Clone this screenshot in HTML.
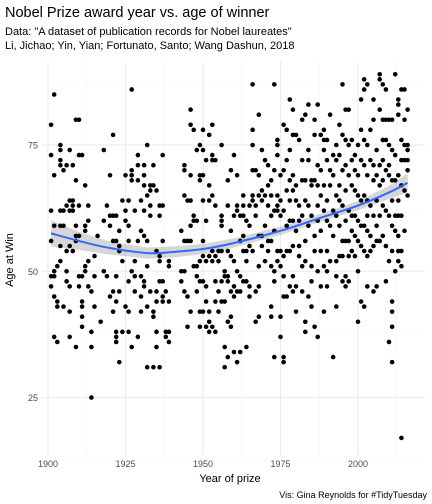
<!DOCTYPE html>
<html><head><meta charset="utf-8"><style>
html,body{margin:0;padding:0;background:#fff;}
svg{display:block;font-family:"Liberation Sans",sans-serif;}
</style></head><body>
<svg id="chart" width="432" height="504">
<text x="5" y="17" font-size="14.5" fill="#000">Nobel Prize award year vs. age of winner</text>
<text x="5" y="35" font-size="11" fill="#000">Data: "A dataset of publication records for Nobel laureates"</text>
<text x="5" y="49" font-size="11" fill="#000">Li, Jichao; Yin, Yian; Fortunato, Santo; Wang Dashun, 2018</text>
<g id="grid"></g>
<g id="band"></g>
<g id="pts"></g>
<g id="line"></g>
<g id="axes"></g>
<text x="230" y="482" font-size="11" text-anchor="middle" fill="#000">Year of prize</text>
<text transform="translate(13,260) rotate(-90)" font-size="11" text-anchor="middle" fill="#000">Age at Win</text>
<text x="427" y="498" font-size="9" text-anchor="end" fill="#000">Vis: Gina Reynolds for #TidyTuesday</text>
</svg>
<script>
const xTicks=[1900,1925,1950,1975,2000];
const yTicks=[25,50,75];
const smoothYears=[1901,1910,1920,1932,1940,1950,1960,1975,1990,2000,2010,2016];
const smoothAges=[57.5,56,54.6,53.6,53.8,54.4,55.6,58,61,63,65.6,67.5];
const smoothSE=[2.6,1.8,1.3,1.1,1.1,1,0.9,0.8,0.8,0.9,1.3,1.9];
const pointYears=[1901,1902,1903,1904,1905,1906,1907,1908,1909,1910,1911,1912,1913,1914,1915,1916,1917,1918,1919,1920,1921,1922,1923,1924,1925,1926,1927,1928,1929,1930,1931,1932,1933,1934,1935,1936,1937,1938,1939,1943,1944,1945,1946,1947,1948,1949,
1950,1951,1952,1953,1954,1955,1956,1957,1958,1959,1960,1961,1962,1963,1964,1965,1966,1967,1968,1969,1970,1971,1972,1973,1974,1975,1976,1977,1978,1979,1980,1981,1982,1983,1984,1985,1986,1987,1988,1989,1990,1991,1992,1993,1994,1995,1996,1997,1998,1999,2000,2001,2002,2003,2004,2005,2006,2007,2008,2009,2010,2011,2012,2013,2014,2015,2016];
const pointAges=[
[79,73,62,56,49,47],[85,69,59,50,49,45,37],[51,44,43,36],[75,74,72,71,62,59,55,52],[70,62,59,43],[71,63,54,50,48],[74,64,62,55,47,42,37],[71,64,63,62,54],[80,68,59,57,56,35],[80,73,57,63,49,47],[73,49,44,43,41,39],[67,59,58,51,50],[63,60,52,47],[46,38,35,25],[53,49,43],[57],[40],[60,50,74],[63,49],[69,61,59,45],[77,61,56,46,42],[61,56,49,44,38,37,36],[58,55,54,46,32],[64,52,38],[69,60,62,43],[64,59,56,48,42,38],[86,70,69,68,50,35],[62,52,49,46],[73,71,68,56,37],[64,58,49,45,42],[71,67,69,62,57,48,47],[75,65,56,51,43,31],[67,66,63,61,46],[67,71,42,41,31],[66,54,46,44,38,35],[63,61,53,52,48,31],[73,63,56,48,45,44],[46,38,37],[52,51,44,38,36],[58,50,48],[71,70,65,56,50,46],[64,56,45,39],[82,79,69,64,59,56,42],[78,61,60,51],[74,60,51,49,46],[75,69,68,52,48,42,39],
[78,74,69,64,56,53,48,42],[72,60,52,47,44,39],[77,67,64,53,42,40,38],[79,73,72,65,54,52,39],[72,63,53,48,44,38],[54,52,46,42],[75,61,60,59,54,48,44],[50,49,44,35,31],[68,63,54,49,48,40,33],[70,58,53,46,41,39],[73,61,52,47,45,34],[69,63,62,50,46,32],[61,56,49,46,34],[65,63,61,57,54,48],[60,54,52,48,35],[63,59,55,47,45],[87,78,75,70,65,64,54],[70,63,61,46,40],[81,69,65,57,51,47,41],[74,66,64,57,55],[72,65,59,52],[71,67,63,56,54],[68,65,61,56,51,43,41],[87,70,62,58,50,48,33],[76,75,73,65,63,62,54,52],[69,64,61,54,51,41,37],[79,70,62,53,49,45,33,32],[78,72,66,59,54,45],[84,74,68,64,60,54,47],[82,77,69,66,60,55,49,46],[77,67,64,58,47,42],[76,63,60,55,53],[80,72,68,61,51,46],[81,68,64,56,52,40,38],[83,74,72,63,59,45],[68,67,61,51,48,43],[80,77,68,57,54,39],[83,71,67,63,60,50,37],[77,70,65,58,54,47],[78,76,74,67,62,51,42],[76,72,64,60,54,50,47],[81,70,67,59,52],[73,69,62,57,33],[75,72,65,61,52,49,43],[79,73,67,64,59,53],[87,77,70,63,56,53,48],[82,76,71,66,60,56,49,47],[82,75,69,62,56,53,48],[76,72,67,61,58,54],[73,70,66,61,57,53],[75,69,65,60,56,50,40],[84,78,72,64,59,55,44],[88,86,76,71,65,59,54,43],[87,75,69,64,61,58,53,47],[78,72,63,57,54],[84,80,71,68,61,55,46],[74,69,64,59,56,47],[89,88,82,71,67,61,56],[87,80,76,72,68,63,57],[86,80,76,70,62,55,48],[80,75,71,69,61,52,36],[80,74,68,64,59,54,44,42,39,32],[89,73,68,61,58,50],[84,83,81,69,64,61,57,54,52],[86,76,72,67,61,54,51,17],[86,80,75,72,66,58],[82,75,74,72,70,65]];
const NS="http://www.w3.org/2000/svg";
const L=42,R=425,T=62,B=455;
const x=y=>48+(y-1900)*3.1;
const y=a=>145+(75-a)*5.05;
function mk(tag,attrs,parent){const e=document.createElementNS(NS,tag);for(const k in attrs)e.setAttribute(k,attrs[k]);parent.appendChild(e);return e;}
const grid=document.getElementById('grid');
for(let i=0;i<xTicks.length;i++){
  const v=xTicks[i];
  const g=mk('line',{x1:x(v),x2:x(v),y1:T,y2:B,stroke:'#ebebeb','stroke-width':1.1},grid);
  
  
  const m=mk('line',{x1:x(v+12.5),x2:x(v+12.5),y1:T,y2:B,stroke:'#f4f4f4','stroke-width':0.6},grid);
  
  
}
for(const v of [12.5,37.5,62.5,87.5]){
  const m=mk('line',{x1:L,x2:R,y1:y(v),y2:y(v),stroke:'#f4f4f4','stroke-width':0.6},grid);
  
  
}
const axes=document.getElementById('axes');
for(const v of yTicks){
  const g=mk('line',{x1:L,x2:R,y1:y(v),y2:y(v),stroke:'#ebebeb','stroke-width':1.1},grid);
  
  
  const t=mk('text',{x:L-4,y:y(v)+3.5,'font-size':9,'text-anchor':'end',fill:'#4d4d4d'},axes);
  t.textContent=v;
  
  
}
for(const v of xTicks){
  const t=mk('text',{x:x(v),y:B+12,'font-size':9,'text-anchor':'middle',fill:'#4d4d4d'},axes);
  t.textContent=v;
  
  
}
function smoothPath(P){
  let d='M'+P[0][0]+','+P[0][1];
  for(let i=0;i<P.length-1;i++){
    const p0=P[Math.max(i-1,0)],p1=P[i],p2=P[i+1],p3=P[Math.min(i+2,P.length-1)];
    d+='C'+(p1[0]+(p2[0]-p0[0])/6)+','+(p1[1]+(p2[1]-p0[1])/6)+' '+(p2[0]-(p3[0]-p1[0])/6)+','+(p2[1]-(p3[1]-p1[1])/6)+' '+p2[0]+','+p2[1];
  }
  return d;
}
let up=[],dn=[],mid=[];
for(let i=0;i<smoothYears.length;i++){
  up.push(x(smoothYears[i])+','+y(smoothAges[i]+smoothSE[i]));
  dn.unshift(x(smoothYears[i])+','+y(smoothAges[i]-smoothSE[i]));
  mid.push([x(smoothYears[i]),y(smoothAges[i])]);
}
const band=mk('polygon',{points:up.concat(dn).join(' '),fill:'#999',opacity:0.4},document.getElementById('band'));


const pts=document.getElementById('pts');
for(let i=0;i<pointYears.length;i++){
  for(const a of pointAges[i]){
    const c=mk('circle',{cx:x(pointYears[i]),cy:y(a),r:2.3,fill:'#000'},pts);
    
    
  }
}
const ln=mk('path',{d:smoothPath(mid),fill:'none',stroke:'#3366ff','stroke-width':2},document.getElementById('line'));


</script>
</body></html>
